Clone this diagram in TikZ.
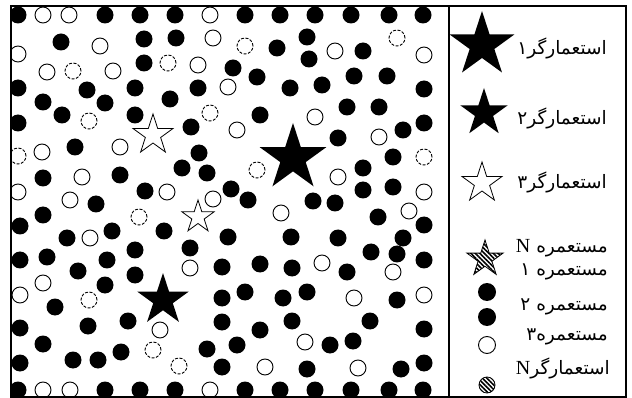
\documentclass[tikz,border=0pt]{standalone}
\usepackage{fontspec}
\usepackage{tikz}
\usetikzlibrary{shapes.geometric, patterns.meta}
\TeXXeTstate=1
\newfontfamily\arabicfont[Script=Arabic]{DejaVu Sans}
\tikzset{
    colony/.style={circle, minimum size=17pt, inner sep=0pt, fill=black},
    freecolony/.style={circle, minimum size=16pt, inner sep=0pt, draw=black, line width=0.9pt, fill=white},
    weakcolony/.style={freecolony, dash pattern=on 3pt off 1.5pt},
    empire/.style={star, star points=5, star point ratio=2.618, inner sep=0pt, fill=black},
    openempire/.style={star, star points=5, star point ratio=2.618, inner sep=0pt, draw=black, line width=0.8pt, fill=white},
    hatchempire/.style={star, star points=5, star point ratio=2.618, inner sep=0pt, draw=black, line width=0.8pt, pattern={Lines[angle=-45, distance=3.2pt, line width=1.6pt]}},
    hatchcolony/.style={circle, minimum size=16pt, inner sep=0pt, draw=black, line width=0.8pt, pattern={Lines[angle=-45, distance=3.2pt, line width=1.6pt]}},
    legendtext/.style={anchor=east, inner sep=0pt, font=\arabicfont\fontsize{18.5}{20}\selectfont}
}
\newcommand{\bigN}{{\fontspec{Liberation Serif}\fontsize{20}{20}\selectfont N}}

\begin{document}
\begin{tikzpicture}[x=1pt, y=-1pt]
    \useasboundingbox (0,0) rectangle (632,398);
    \fill[white] (0,0) rectangle (632,398);

    % the map
    \begin{scope}
    \clip (11,6) rectangle (449,397);
    \foreach \x/\y [count=\i] in {18/15, 105/15, 140/15, 175/15, 245/15, 280/15, 315/15, 351/15, 389/15, 423/15,
        18/390, 105/390, 140/390, 175/390, 245/390, 280/390, 315/390, 351/390, 389/390, 423/390,
        61/42, 144/39, 176/38, 144/63, 18/88, 87/90, 135/88, 198/88, 43/102, 105/103, 170/99, 62/115,
        135/115, 18/123, 191/127, 75/147, 199/153, 43/178, 120/175, 182/168, 207/173, 145/191, 231/189,
        96/204, 43/215, 20/226, 67/238, 112/231, 164/231, 135/250, 190/248, 47/257, 20/260, 107/260,
        78/271, 135/275, 105/285, 55/307, 20/328, 88/326, 128/321, 43/344, 121/352, 73/360, 98/360,
        20/363, 207/349, 222/267, 222/298, 222/322, 222/367,
        277/48, 307/37, 309/59, 363/51, 233/68, 257/77, 290/88, 322/85, 354/76, 387/76, 424/89,
        260/115, 347/107, 379/107, 338/138, 403/130, 424/123, 393/157, 363/168, 363/190, 393/187,
        248/200, 313/201, 335/203,
        378/217, 424/225, 228/237, 291/237, 338/238, 403/238, 371/252, 397/254, 424/260, 260/264,
        292/268, 347/272, 245/292, 283/298, 307/292, 397/300, 260/330, 292/321, 370/321, 424/329,
        237/345, 330/345, 353/341, 307/369, 401/369, 424/363}
        \node[colony] (c\i) at (\x,\y) {};
    \foreach \x/\y [count=\i] in {43/15, 69/15, 210/15, 43/390, 70/390, 210/390, 100/46, 213/38, 18/54,
        47/72, 113/71, 198/65, 424/55, 335/51, 228/87, 42/152, 120/147, 82/177, 18/192, 167/192,
        213/199, 315/117, 237/130, 379/137, 338/177, 424/192, 70/200, 90/238, 190/268, 43/283,
        20/295, 160/330, 281/213, 409/211, 322/263, 393/272, 354/298, 424/295, 305/342, 265/367, 358/368}
        \node[freecolony] (o\i) at (\x,\y) {};
    \foreach \x/\y [count=\i] in {73/71, 168/63, 89/121, 210/113, 18/156, 245/46, 397/38, 424/157,
        257/170, 139/217, 89/300, 153/350, 179/366}
        \node[weakcolony] (w\i) at (\x,\y) {};
    \node[openempire, minimum size=42pt] (imp3) at (153,135) {};
    \node[openempire, minimum size=34pt] (imp4) at (198,217) {};
    \node[empire, minimum size=70pt] (imp1) at (293,158) {};
    \node[empire, minimum size=54pt] (imp2) at (163,300) {};
    \end{scope}

    % frame
    \draw[line width=1.5pt] (11,6) rectangle (626,397);
    \draw[line width=1.5pt] (449,6) -- (449,397);

    % legend
    \node[empire, minimum size=68pt] (key1) at (482,45) {};
    \node[empire, minimum size=50pt] (key2) at (484,113) {};
    \node[openempire, minimum size=42pt] (key3) at (482,183) {};
    \node[hatchempire, minimum size=38pt] (keyN) at (485,259) {};
    \node[colony, minimum size=18pt] (keyc1) at (487,292) {};
    \node[colony, minimum size=18pt] (keyc2) at (487,317) {};
    \node[freecolony, minimum size=17pt] (keyc3) at (487,345) {};
    \node[hatchcolony] (keycN) at (487,385) {};

    \node[legendtext] (t1) at (607,48) {\beginR استعمارگر۱\endR};
    \node[legendtext] (t2) at (607,118) {\beginR استعمارگر۲\endR};
    \node[legendtext] (t3) at (607,182) {\beginR استعمارگر۳\endR};
    \node[legendtext] (tN) at (608,248) {\beginR مستعمره \bigN\endR};
    \node[legendtext] (tc1) at (608,272) {\beginR مستعمره ۱\endR};
    \node[legendtext] (tc2) at (608,307) {\beginR مستعمره ۲\endR};
    \node[legendtext] (tc3) at (608,337) {\beginR مستعمره۳\endR};
    \node[legendtext] (tcN) at (610,368) {\beginR استعمارگر\bigN\endR};
\end{tikzpicture}
\end{document}
